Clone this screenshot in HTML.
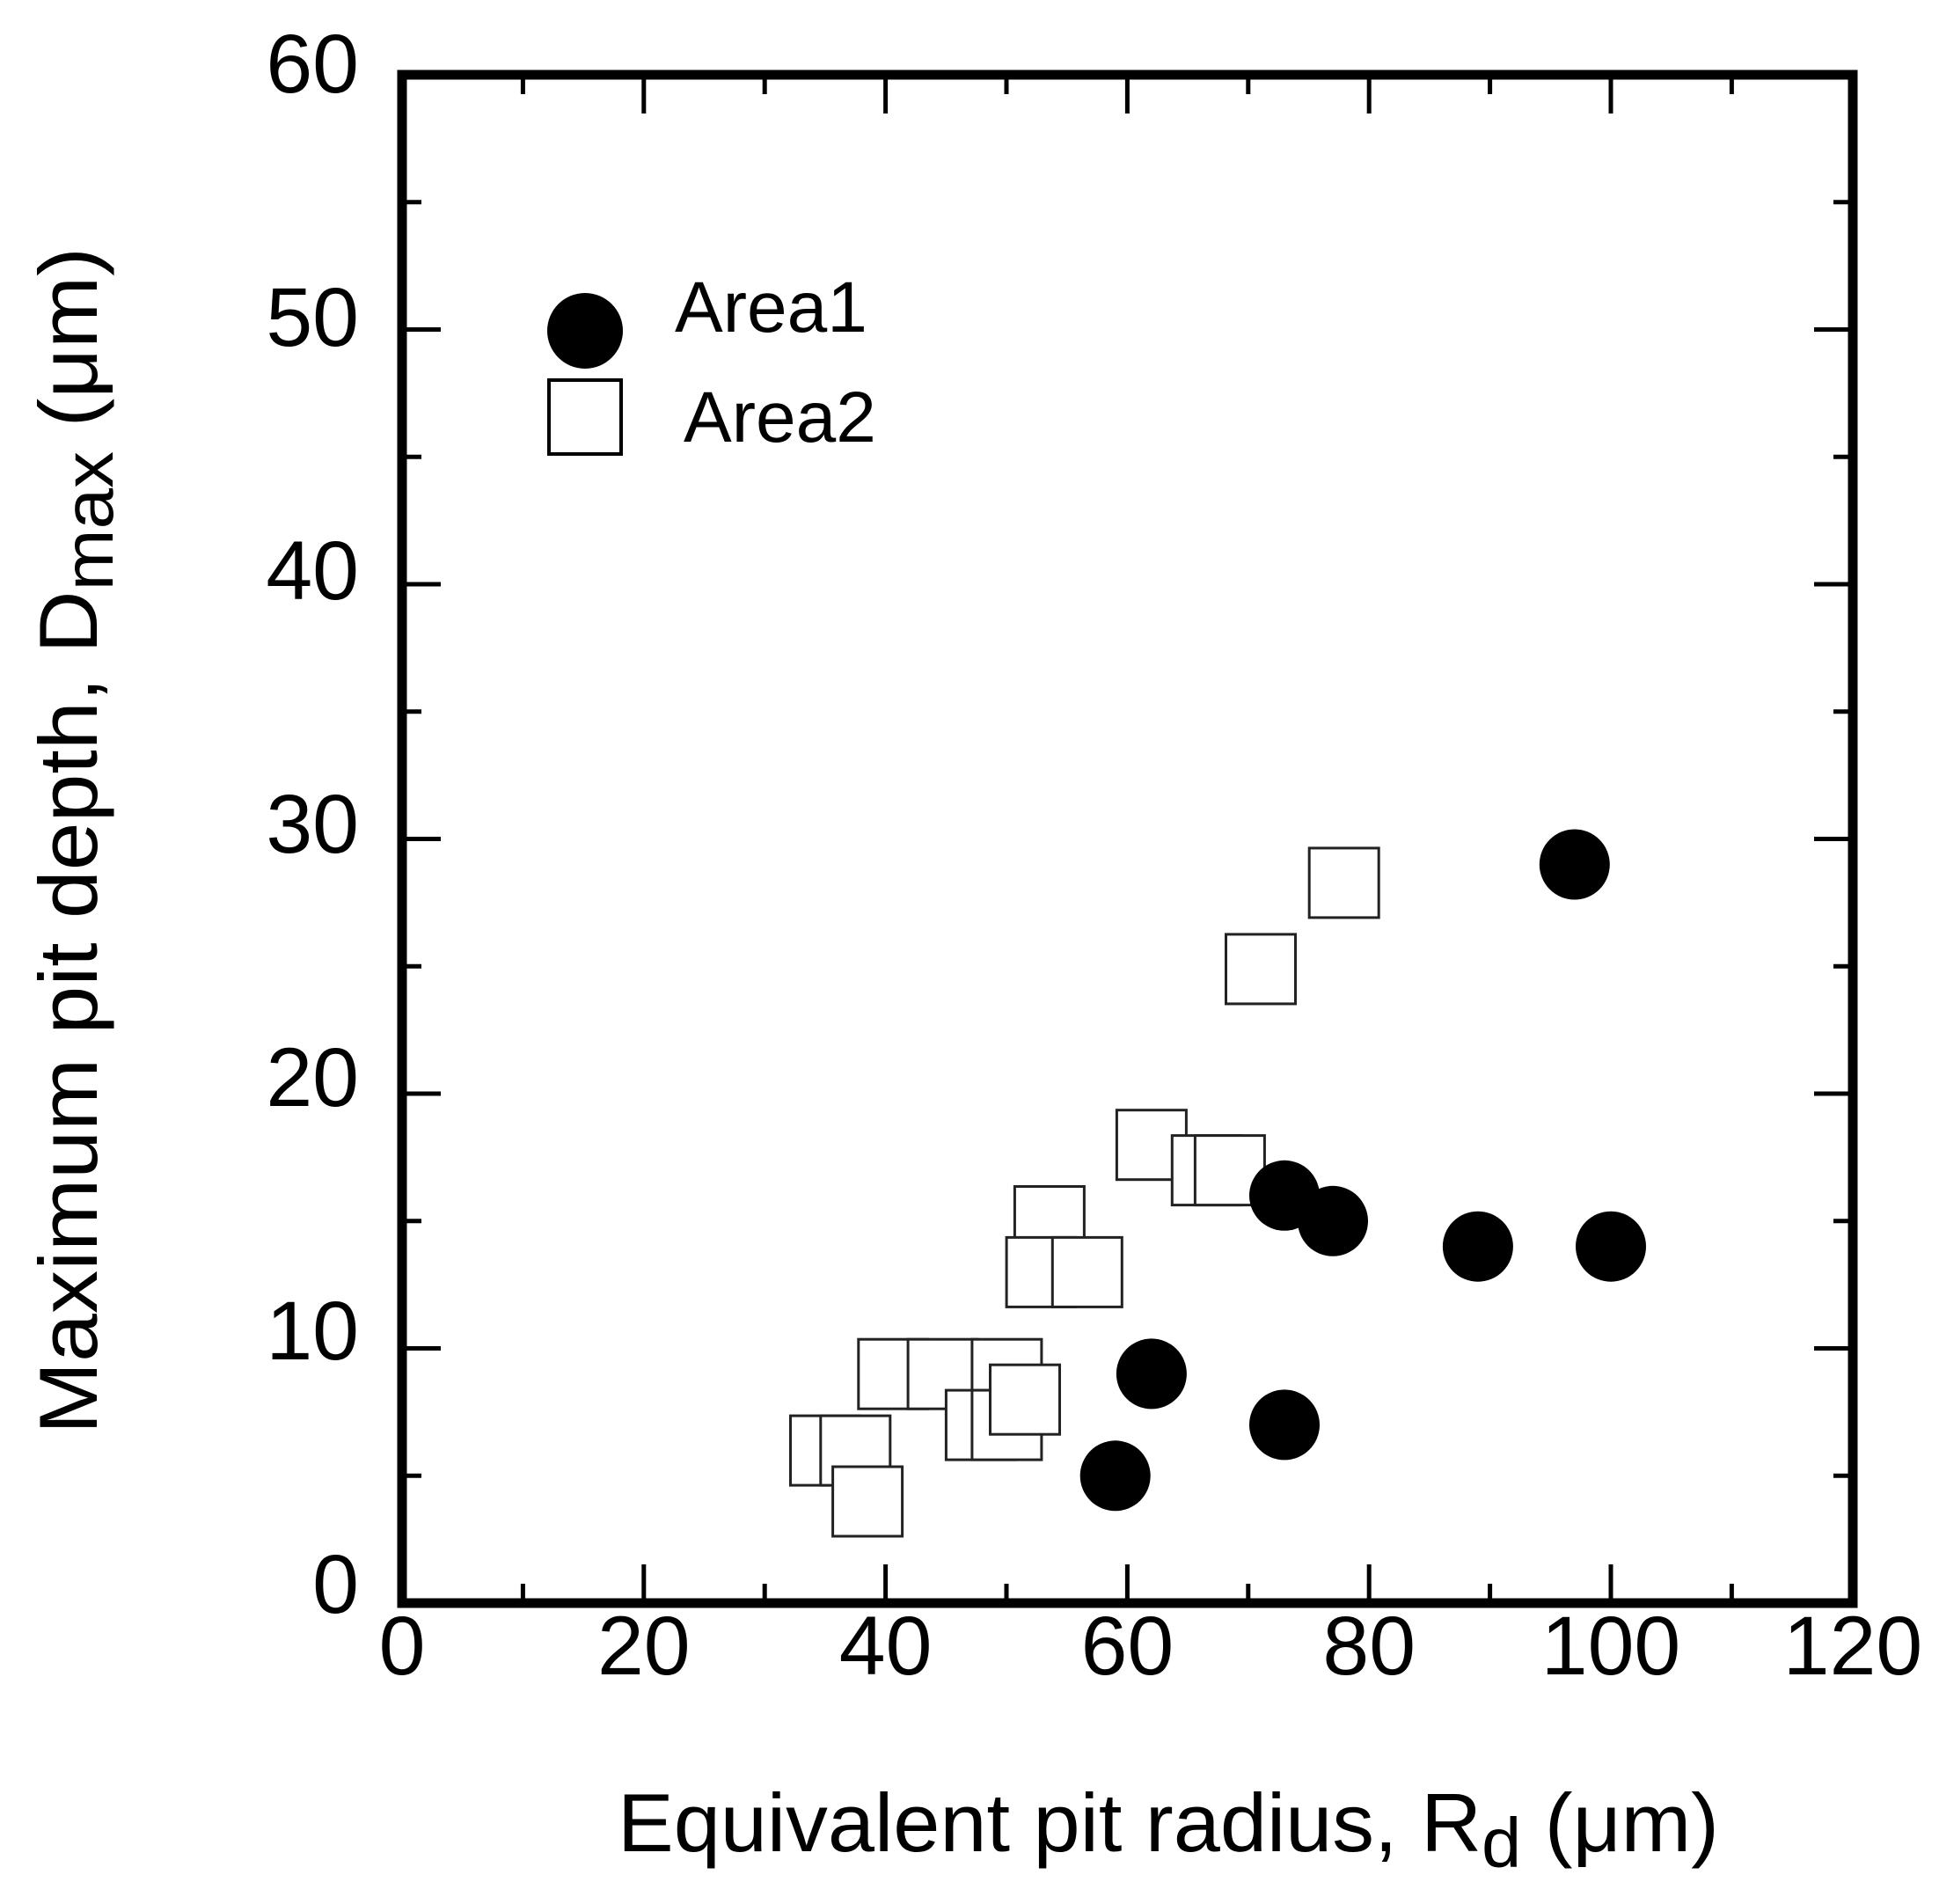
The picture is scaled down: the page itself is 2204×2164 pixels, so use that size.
<!DOCTYPE html>
<html><head><meta charset="utf-8"><style>html,body{margin:0;padding:0;background:#fff}svg{display:block}</style></head>
<body>
<svg width="2204" height="2164" viewBox="0 0 2204 2164" xmlns="http://www.w3.org/2000/svg" font-family="Liberation Sans, Arial, sans-serif">
<rect width="2204" height="2164" fill="#fff"/>
<g id="sq" fill="#fff" stroke="#222" stroke-width="3">
</g>
<script>
</script>
<!-- squares -->
<g fill="#fff" stroke="#222" stroke-width="3">
<rect x="1488.2" y="963.9" width="79" height="79"/>
<rect x="1393.5" y="1061.9" width="79" height="79"/>
<rect x="1269.4" y="1261.7" width="79" height="79"/>
<rect x="1332.3" y="1290.6" width="79" height="79"/>
<rect x="1358.4" y="1290.6" width="79" height="79"/>
<rect x="1153.4" y="1348.5" width="79" height="79"/>
<rect x="1144.1" y="1406.4" width="79" height="79"/>
<rect x="1196.3" y="1406.4" width="79" height="79"/>
<rect x="975.8" y="1522.2" width="79" height="79"/>
<rect x="1032.1" y="1522.2" width="79" height="79"/>
<rect x="1104.9" y="1522.2" width="79" height="79"/>
<rect x="1075.4" y="1580.1" width="79" height="79"/>
<rect x="1104.9" y="1580.1" width="79" height="79"/>
<rect x="1125.5" y="1551.2" width="79" height="79"/>
<rect x="898.5" y="1609.1" width="79" height="79"/>
<rect x="932.8" y="1609.1" width="79" height="79"/>
<rect x="946.6" y="1667.0" width="79" height="79"/>
</g>
<!-- circles -->
<g fill="#000">
<circle cx="1267.7" cy="1677.3" r="40"/>
<circle cx="1308.9" cy="1561.4" r="40"/>
<circle cx="1460.0" cy="1619.4" r="40"/>
<circle cx="1460.0" cy="1358.8" r="40"/>
<circle cx="1515.0" cy="1387.8" r="40"/>
<circle cx="1679.9" cy="1416.7" r="40"/>
<circle cx="1789.8" cy="982.5" r="40"/>
<circle cx="1831.0" cy="1416.7" r="40"/>
</g>
<!-- axes frame -->
<rect x="457" y="85" width="1649" height="1737" fill="none" stroke="#000" stroke-width="11"/>
<g stroke="#000" stroke-width="5">
<!-- x ticks -->
<path d="M594.4 1822v-22M869.2 1822v-22M1144 1822v-22M1418.8 1822v-22M1693.6 1822v-22M1968.4 1822v-22
M594.4 85v22M869.2 85v22M1144 85v22M1418.8 85v22M1693.6 85v22M1968.4 85v22"/>
<path d="M731.8 1822v-44M1006.6 1822v-44M1281.4 1822v-44M1556.2 1822v-44M1831 1822v-44
M731.8 85v44M1006.6 85v44M1281.4 85v44M1556.2 85v44M1831 85v44"/>
<!-- y ticks -->
<path d="M457 1677.3h22M457 1387.8h22M457 1098.3h22M457 808.8h22M457 519.3h22M457 229.8h22
M2106 1677.3h-22M2106 1387.8h-22M2106 1098.3h-22M2106 808.8h-22M2106 519.3h-22M2106 229.8h-22"/>
<path d="M457 1532.5h44M457 1243h44M457 953.5h44M457 664h44M457 374.5h44
M2106 1532.5h-44M2106 1243h-44M2106 953.5h-44M2106 664h-44M2106 374.5h-44"/>
</g>
<!-- tick labels -->
<g font-size="95" fill="#000" text-anchor="end">
<text x="408" y="1833">0</text>
<text x="408" y="1545">10</text>
<text x="408" y="1257">20</text>
<text x="408" y="969">30</text>
<text x="408" y="681">40</text>
<text x="408" y="393">50</text>
<text x="408" y="105">60</text>
</g>
<g font-size="95" fill="#000" text-anchor="middle">
<text x="457" y="1903">0</text>
<text x="731.8" y="1903">20</text>
<text x="1006.6" y="1903">40</text>
<text x="1281.4" y="1903">60</text>
<text x="1556.2" y="1903">80</text>
<text x="1831" y="1903">100</text>
<text x="2106" y="1903">120</text>
</g>
<!-- legend -->
<circle cx="665" cy="376" r="43" fill="#000"/>
<rect x="624" y="432" width="82" height="84" fill="#fff" stroke="#000" stroke-width="4"/>
<text x="767" y="377" font-size="82" fill="#000">Area1</text>
<text x="777" y="502" font-size="82" fill="#000">Area2</text>
<!-- axis titles -->
<text x="702" y="2104" font-size="94" fill="#000" textLength="1252" lengthAdjust="spacingAndGlyphs">Equivalent pit radius, R<tspan font-size="80" dy="18">d</tspan><tspan dy="-18"> (μm)</tspan></text>
<text transform="translate(110,1630) rotate(-90)" x="0" y="0" font-size="94" fill="#000" textLength="1349" lengthAdjust="spacingAndGlyphs">Maximum pit depth, D<tspan font-size="80" dy="18">max</tspan><tspan dy="-18"> (μm)</tspan></text>
</svg>
</body></html>
